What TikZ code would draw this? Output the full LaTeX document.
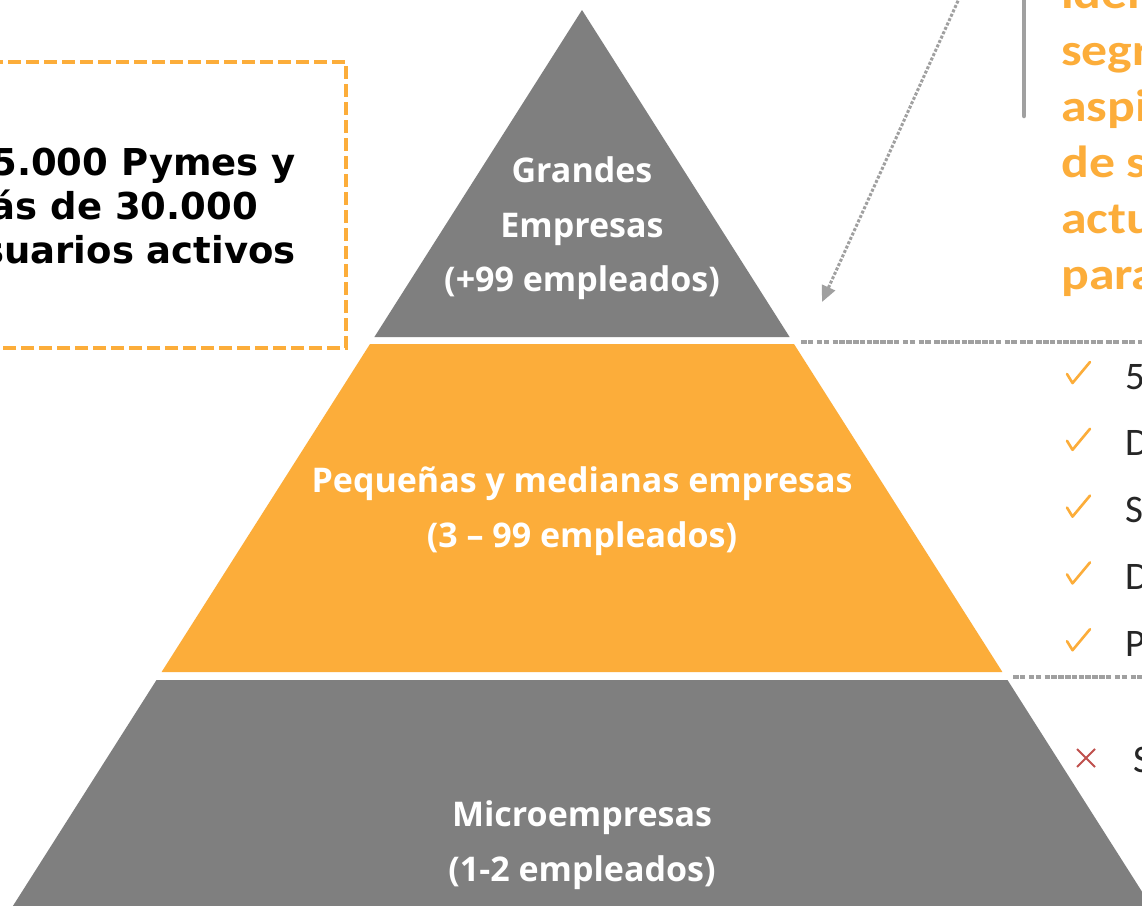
\documentclass[tikz,border=0pt]{standalone}
\usepackage{fontspec}
\usetikzlibrary{arrows.meta}
\newfontfamily\pyrfont{Open Sans}
\newfontfamily\calfont{Carlito}
\newfontfamily\sidefont{Carlito}[FakeStretch=1.15]
\newfontfamily\verfont{DejaVu Sans}
\definecolor{porange}{RGB}{252,173,58}
\definecolor{pgray}{RGB}{127,127,127}
\definecolor{lgray}{RGB}{160,160,160}
\definecolor{xred}{RGB}{192,80,77}
\begin{document}
\begin{tikzpicture}[x=1pt,y=-1pt,
  pyrtext/.style={text=white, font=\pyrfont\bfseries\fontsize{34}{40}\selectfont, inner sep=0pt, anchor=base},
  boxtext/.style={text=black, font=\verfont\bfseries\fontsize{37}{44}\selectfont, inner sep=0pt, anchor=base east},
  sidetext/.style={text=porange, font=\sidefont\bfseries\fontsize{45}{56}\selectfont, inner sep=0pt, anchor=base west},
  listtext/.style={text=black!85, font=\calfont\fontsize{39}{46}\selectfont, inner sep=0pt, anchor=base west},
  checkmark/.style={draw=porange, line width=2.6pt, line cap=round, line join=round},
  sepline/.style={draw=lgray, line width=3.5pt, dash pattern=on 5.5pt off 1.3pt on 5.5pt off 3.5pt on 5.5pt off 1.3pt on 5.5pt off 3.5pt on 5.5pt off 1.3pt on 5.5pt off 1.3pt on 5.5pt off 1.3pt on 5.5pt off 1.3pt on 5.5pt off 1.3pt on 5.5pt off 1.3pt on 5.5pt off 1.3pt on 5.5pt off 1.3pt on 5.5pt off 1.3pt on 5.5pt off 3.5pt}
]
\useasboundingbox (0,0) rectangle (1142,905);
\fill[white] (0,0) rectangle (1142,905);

% pyramid
\fill[pgray] (582,10) -- (789.6,337) -- (374.4,337) -- cycle;
\fill[porange] (370,344) -- (794,344) -- (1002.4,672) -- (161.6,672) -- cycle;
\fill[pgray] (156.5,680) -- (1007.5,680) -- (1160,920) -- (4,920) -- cycle;

\node[pyrtext] (g1) at (582,182) {Grandes};
\node[pyrtext] (g2) at (582,237) {Empresas};
\node[pyrtext] (g3) at (582,291) {(+99 empleados)};
\node[pyrtext] (p1) at (582,492) {Pequeñas y medianas empresas};
\node[pyrtext] (p2) at (582,547) {(3 – 99 empleados)};
\node[pyrtext] (m1) at (582,826) {Microempresas};
\node[pyrtext] (m2) at (582,881) {(1-2 empleados)};

% dashed orange box
\draw[porange, line width=4pt, dash pattern=on 13pt off 5pt] (-10,62) -- (346,62) -- (346,348) -- (-10,348);
\node[boxtext] (b1) at (296,175) {5.000 Pymes y};
\node[boxtext] (b2) at (258,219) {más de 30.000};
\node[boxtext] (b3) at (296,263) {usuarios activos};

% top right
\coordinate (barT) at (1024,-5);
\coordinate (barB) at (1024,116);
\draw[lgray, line width=4.5pt, line cap=round] (barT) -- (barB);
\coordinate (arrS) at (962,-8);
\coordinate (arrE) at (822,302);
\draw[lgray, line width=3pt, dash pattern=on 3pt off 1.8pt, -{Triangle[length=16pt,width=14pt]}] (arrS) -- (arrE);

\node[sidetext] (s0) at (1061,8) {iden};
\node[sidetext] (s1) at (1061,65) {segr};
\node[sidetext] (s2) at (1061,121) {aspi};
\node[sidetext] (s3) at (1061,177) {de s};
\node[sidetext] (s4) at (1061,233) {actu};
\node[sidetext] (s5) at (1061,289) {para};

% separators
\coordinate (d1a) at (801,342);
\coordinate (d1b) at (1150,342);
\coordinate (d2a) at (1013,677);
\coordinate (d2b) at (1150,677);
\path[sepline] (d1a) -- (d1b);
\path[sepline] (d2a) -- (d2b);

% checklist
\foreach \i/\t in {0/5,1/D,2/S,3/D,4/P}{
  \draw[checkmark] (1067,{374+66.8*\i}) -- (1072.5,{383+66.8*\i}) -- (1090,{362+66.8*\i});
  \node[listtext] (l\i) at (1125,{389+66.8*\i}) {\t};
}
\draw[xred, line width=2pt] (1077,749) -- (1095,767) (1095,749) -- (1077,767);
\node[listtext] (lx) at (1133,772) {S};
\end{tikzpicture}
\end{document}
